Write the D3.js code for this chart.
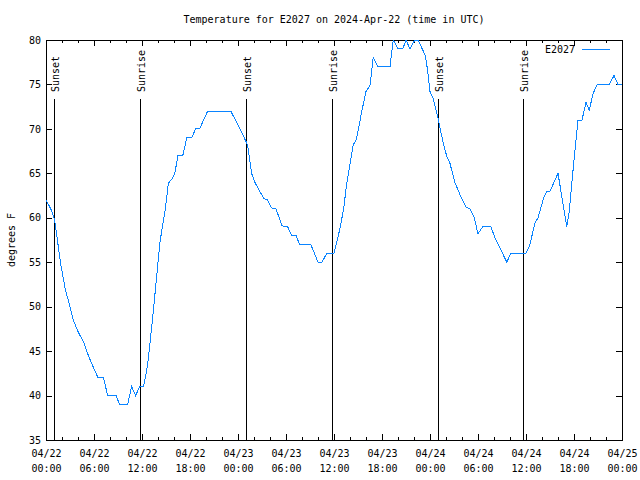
<!DOCTYPE html>
<html><head><meta charset="utf-8">
<script src="https://cdn.jsdelivr.net/npm/d3@7"></script>
<style>body{margin:0;background:#fff}svg{display:block}text{font-family:"DejaVu Sans Mono","Liberation Mono",monospace;font-size:10px;fill:#000}</style>
</head><body>
<script>
const title = "Temperature for E2027 on 2024-Apr-22 (time in UTC)";
const seriesName = "E2027";
const yLabel = "degrees F";
// hours since 2024-04-22 00:00 UTC
const hours = [0.0,0.6,1.0,1.2,1.5,1.8,2.4,3.0,3.4,4.0,4.7,5.3,6.0,6.5,7.2,7.7,8.75,9.2,10.2,10.7,11.2,11.7,12.2,12.7,13.2,13.75,14.25,14.9,15.3,15.7,16.1,16.5,17.1,17.6,18.2,18.7,19.2,20.2,23.1,24.25,25.2,25.7,26.1,27.2,27.7,28.2,28.75,29.5,30.2,30.7,31.25,31.7,33.1,34.0,34.5,35.1,36.0,36.75,37.2,37.6,38.4,38.8,39.5,40.0,40.5,40.9,41.5,43.0,43.4,44.0,44.6,45.0,45.5,46.1,46.5,47.4,47.7,48.0,48.4,49.0,49.7,50.1,50.5,51.1,51.75,52.5,53.0,53.5,54.0,54.6,55.6,56.1,57.6,58.1,60.0,60.5,61.1,61.5,62.2,62.6,63.0,64.0,65.1,65.4,65.8,66.1,66.5,67.0,67.5,67.9,68.4,68.9,70.4,71.0,71.5,72.0];
const tempsF = [62,61,60,59,57,55,52,50,48.5,47.2,46,44.5,43,42,42,40,40,39,39,41,40,41,41,43.4,47.6,52.6,57.3,60.9,63.9,64.3,65,67,67,69,69,70,70,72,72,70,68.2,65,64,62.2,62,61.1,61,59.1,59,58,58,57,57,55,55,56,56,58.8,61,63.9,68.2,68.8,72.1,74.2,74.9,78,77,77,80,79,79,80,79,80,80,78.3,76.6,74.2,73.4,71.2,68.2,66.9,66.1,64,62.6,61.2,61,60.1,58.2,59,59,57.8,55,56,56,57,59.4,60,62.2,63,63,65,59,60.7,64.6,67.4,71,71,73,72.1,74,75,75,76,75,75];
const sunsetHours = [1.0, 25.07, 49.05];
const sunriseHours = [11.75, 35.8, 59.67];
const yTicks = [35,40,45,50,55,60,65,70,75,80];

const W = 640, H = 480;
const L = 46, T = 40, R = 622, B = 440;
const t0 = Date.UTC(2024, 3, 22, 0, 0);
const toDate = h => new Date(t0 + h * 3600e3);

const svg = d3.select("body").append("svg").attr("width", W).attr("height", H)
  .attr("shape-rendering", "crispEdges");
svg.append("rect").attr("width", W).attr("height", H).attr("fill", "#fff");

const x = d3.scaleUtc().domain([toDate(0), toDate(72)]).range([L, R]);
const y = d3.scaleLinear().domain([35, 80]).range([B, T]);

const fmtD = d3.utcFormat("%m/%d"), fmtT = d3.utcFormat("%H:%M");

// minor ticks (2h) bottom & top
svg.append("g").attr("transform", `translate(0,${B})`)
  .call(d3.axisBottom(x).ticks(d3.utcHour.every(2)).tickSize(-3).tickFormat(""))
  .call(g => g.select(".domain").remove());
svg.append("g").attr("transform", `translate(0,${T})`)
  .call(d3.axisTop(x).ticks(d3.utcHour.every(2)).tickSize(-3).tickFormat(""))
  .call(g => g.select(".domain").remove());
// major ticks (6h)
const xb = svg.append("g").attr("transform", `translate(0,${B})`)
  .call(d3.axisBottom(x).ticks(d3.utcHour.every(6)).tickSize(-6).tickPadding(10))
  .call(g => g.select(".domain").remove());
xb.selectAll(".tick text").each(function(d) {
  const t = d3.select(this); t.text(null);
  t.append("tspan").attr("x", 0).text(fmtD(d));
  t.append("tspan").attr("x", 0).attr("dy", "1.5em").text(fmtT(d));
});
svg.append("g").attr("transform", `translate(0,${T})`)
  .call(d3.axisTop(x).ticks(d3.utcHour.every(6)).tickSize(-6).tickFormat(""))
  .call(g => g.select(".domain").remove());
// y axes
svg.append("g").attr("transform", `translate(${L},0)`)
  .call(d3.axisLeft(y).tickValues(yTicks).tickSize(-6).tickPadding(5))
  .call(g => g.select(".domain").remove());
svg.append("g").attr("transform", `translate(${R},0)`)
  .call(d3.axisRight(y).tickValues(yTicks).tickSize(-6).tickFormat(""))
  .call(g => g.select(".domain").remove());
svg.selectAll(".tick line").attr("stroke", "#000");
svg.selectAll(".tick text").attr("font-family", null).attr("font-size", null).attr("fill", "#000");

// border
svg.append("rect").attr("x", L).attr("y", T).attr("width", R - L).attr("height", B - T)
  .attr("fill", "none").attr("stroke", "#000");

// sun events
const sun = sunsetHours.map(h => ({h, label: "Sunset"}))
  .concat(sunriseHours.map(h => ({h, label: "Sunrise"})));
sun.forEach(s => {
  const px = x(toDate(s.h));
  svg.append("line").attr("x1", px).attr("x2", px).attr("y1", 99).attr("y2", B)
    .attr("stroke", "#000");
  svg.append("text").attr("transform", `translate(${px + 1},92) rotate(-90)`)
    .attr("dy", "0.35em").text(s.label);
});

// data line
const data = hours.map((h, i) => ({h, t: tempsF[i]}));
svg.append("path").datum(data)
  .attr("fill", "none").attr("stroke", "#0a84ff").attr("stroke-width", 1)
  .attr("d", d3.line().x(d => x(toDate(d.h))).y(d => y(d.t)));

// title, labels, legend
svg.append("text").attr("x", (L + R) / 2).attr("y", 23).attr("text-anchor", "middle").text(title);
svg.append("text").attr("transform", `translate(11,240) rotate(-90)`).attr("text-anchor", "middle")
  .attr("dy", "0.35em").text(yLabel);
svg.append("text").attr("x", 575).attr("y", 49).attr("dy", "0.35em").attr("text-anchor", "end").text(seriesName);
svg.append("line").attr("x1", 582).attr("x2", 610).attr("y1", 49).attr("y2", 49).attr("stroke", "#0a84ff");
</script>
</body></html>
